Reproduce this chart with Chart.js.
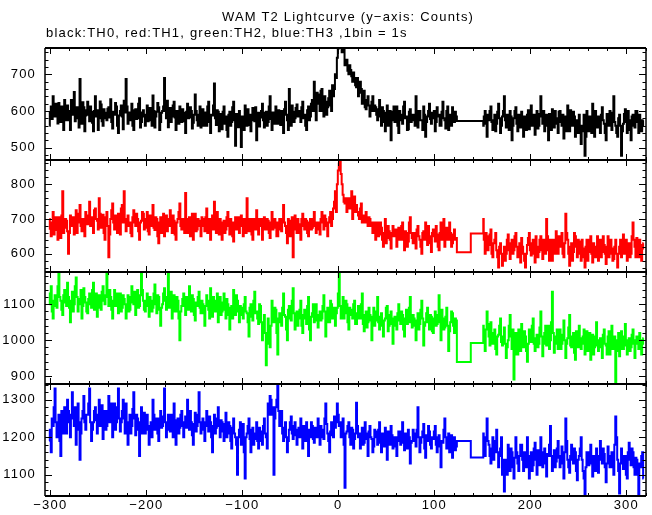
<!DOCTYPE html>
<html>
<head>
<meta charset="utf-8">
<script src="https://cdn.jsdelivr.net/npm/chart.js@4"></script>
<style>
  html, body { margin: 0; padding: 0; background: #fff; }
  #wrap { position: relative; width: 652px; height: 515px; }
  canvas { position: absolute; left: 0; top: 0; }
  .ttl { position: absolute; font-family: "Liberation Sans", Arial, sans-serif; font-size: 13px; line-height: 15px; letter-spacing: 1.2px; color: #000; white-space: nowrap; }
</style>
</head>
<body>
<div id="wrap">
  <canvas id="c" width="652" height="515"></canvas>
  <div class="ttl" id="t1" style="left:222px; top:9px;">WAM T2 Lightcurve (y−axis: Counts)</div>
  <div class="ttl" id="t2" style="left:46px; top:25px;">black:TH0, red:TH1, green:TH2, blue:TH3 ,1bin = 1s</div>
</div>
<script>
// ---- time bins (seconds) ----
const BIN = 1;              // bin width (s)
const PRE_START = -301;     // first bin before the data gap
const POST_START = 151;     // first bin after the data gap
const gapTimes = [124, 138, 151];

// ---- TH0 (black) ----
const th0Pre = [
560,595,612,578,640,604,585,620,598,566,622,590,570,612,605,548,630,592,575,615,
600,575,548,630,615,590,652,572,580,610,592,555,687,598,565,624,610,545,588,602,
625,590,572,612,598,568,545,600,640,585,602,548,580,626,618,572,560,605,595,580,
575,606,610,582,632,570,552,598,590,622,612,560,540,588,600,615,585,550,628,596,
687,612,565,590,596,575,620,560,548,602,605,578,580,620,635,555,570,596,602,585,
560,590,615,572,590,608,575,560,642,600,555,585,598,622,610,548,570,595,600,612,
690,600,580,628,556,595,608,570,585,615,625,582,548,600,592,565,612,584,570,605,
595,572,540,598,620,580,582,610,600,552,568,590,645,600,575,560,590,612,555,585,
605,560,578,596,560,612,625,570,540,590,588,615,675,580,562,602,598,545,580,592,
550,598,612,565,585,548,530,590,598,560,570,610,625,575,505,592,580,556,600,570,
502,585,575,548,615,590,560,605,590,562,545,590,608,575,572,610,520,580,595,558,
582,600,620,575,555,595,598,560,570,612,640,578,548,596,590,565,612,580,565,602,
585,562,600,578,540,605,625,590,575,548,660,600,560,615,598,570,580,608,618,585,
600,595,570,610,625,580,590,560,548,602,612,575,585,620,630,600,680,625,575,650,
645,620,600,655,660,600,585,640,625,590,610,635,655,615,600,670,640,660,700,690,
745,770,790,800,780,760,760,775,725,735,740,710,700,725,712,695,680,705,690,670,
665,690,640,650,680,660,620,640,655,610,605,630,640,615,585,600,625,640,600,615,
610,590,575,605,630,585,560,610,600,570,545,595,615,560,580,600,520,575,598,612,
570,590,612,560,540,600,590,575,565,612,625,580,585,548,550,598,605,570,575,590,
590,560,640,600,555,590,600,575,575,548,612,590,530,570,585,600,620,578,565,595,
580,600,545,570,610,585,590,560,560,598,625,580,575,552,600,612,548,575,590,560,
610,585,570,598,585];
const th0Gap = [573, 573];
const th0Post = [
560,585,600,565,530,590,575,600,612,570,548,575,590,545,565,598,620,580,540,560,
585,600,640,575,555,590,572,548,600,585,520,560,580,600,610,565,545,590,570,555,
598,570,530,585,565,548,590,602,550,575,615,560,575,590,535,580,600,552,560,592,
640,585,565,600,545,570,590,560,520,592,575,548,605,578,555,600,580,565,540,598,
600,570,560,590,525,575,585,545,615,580,545,602,570,560,598,585,530,575,565,540,
590,560,510,545,560,590,478,530,600,570,545,585,575,540,620,578,530,600,555,565,
585,555,540,590,610,575,565,540,520,592,575,560,600,578,548,595,640,570,560,540,
530,580,590,560,478,545,565,592,605,570,540,600,575,548,520,585,590,560,555,600,
600,570,540,590,575,545,560,575];

// ---- TH1 (red) ----
const th1Pre = [
700,672,650,690,720,655,668,705,690,640,705,680,645,710,780,660,675,700,695,665,
600,660,710,690,680,705,655,675,725,660,690,715,740,680,665,700,700,650,720,690,
685,710,750,680,705,690,660,725,730,700,695,670,760,715,675,690,712,660,640,705,
720,680,590,655,700,725,745,690,670,710,690,660,715,700,655,730,740,690,780,700,
665,700,710,680,690,660,650,705,725,690,680,715,700,665,640,690,695,720,715,670,
675,700,720,665,655,710,690,680,740,675,668,705,700,650,630,690,705,660,685,715,
650,690,710,665,680,700,725,680,660,710,695,655,640,690,700,720,745,680,670,700,
690,660,775,700,660,690,705,650,680,715,640,690,715,665,670,700,695,680,650,705,
700,680,665,705,730,660,680,700,640,690,710,670,750,700,660,720,690,655,700,680,
640,690,695,660,670,705,720,680,655,700,690,650,635,690,705,670,680,705,660,690,
710,680,650,700,685,660,760,700,665,690,700,655,640,700,690,670,725,680,655,700,
680,700,640,670,705,680,670,700,695,660,645,690,720,670,675,700,690,650,650,690,
700,670,665,700,740,690,680,660,630,700,695,650,670,705,590,680,710,670,660,700,
685,660,640,700,715,680,670,700,695,660,650,690,700,670,675,700,720,680,660,690,
690,670,655,700,720,690,670,710,700,680,650,690,705,720,680,700,730,750,780,720,
800,840,860,870,830,800,770,750,745,760,720,740,760,730,735,780,700,745,765,720,
740,720,710,700,730,745,690,710,705,690,720,700,680,705,700,680,690,660,665,690,
640,670,690,650,655,690,675,640,620,660,700,630,645,680,665,640,615,660,680,650,
650,670,620,640,675,655,640,680,690,640,610,665,660,620,635,690,705,660,645,630,
660,640,615,670,680,650,640,620,600,660,665,640,690,655,625,680,650,630,605,660,
670,650,635,680,655,620,610,660,690,640,645,700,620,655,675,640,640,690,660,620,
630,655,670,640,645];
const th1Gap = [604, 658];
const th1Post = [
700,640,600,660,650,610,625,655,670,600,590,630,640,660,610,590,560,620,630,600,
565,600,620,580,600,640,655,610,585,630,640,600,610,650,660,620,590,600,630,575,
645,620,600,580,560,600,625,645,660,610,595,630,640,600,575,650,620,590,605,640,
650,610,585,640,625,600,700,650,610,580,640,620,580,640,630,600,665,620,600,650,
620,640,660,600,590,630,715,660,640,600,565,620,630,580,605,660,650,620,590,640,
635,600,580,640,615,590,560,620,640,580,605,640,650,600,575,630,620,590,600,650,
580,620,640,590,605,650,625,600,570,620,650,590,600,640,615,580,585,620,640,600,
560,600,620,640,590,620,655,600,610,640,580,610,630,590,600,650,690,640,620,590,
645,600,590,640,625,580,615,630];

// ---- TH2 (green) ----
const th2Pre = [
1100,1130,1150,1080,1060,1110,1125,1095,1090,1150,1185,1120,1110,1085,1070,1125,1140,1105,1095,1160,
1120,1090,1050,1110,1135,1080,1100,1150,1175,1120,1080,1100,1115,1140,1060,1095,1145,1120,1105,1080,
1075,1115,1130,1100,1090,1140,1160,1085,1110,1130,1065,1105,1125,1090,1085,1135,1150,1110,1100,1125,
1185,1120,1095,1140,1120,1085,1060,1110,1140,1095,1105,1130,1075,1115,1130,1080,1090,1125,1115,1100,
1060,1100,1125,1080,1085,1120,1150,1105,1100,1135,1070,1115,1140,1090,1095,1125,1185,1140,1110,1085,
1080,1110,1130,1095,1065,1120,1110,1080,1090,1130,1155,1100,1075,1125,1120,1085,1040,1090,1100,1130,
1145,1110,1085,1120,1185,1090,1100,1135,1060,1095,1125,1080,1080,1120,1110,1060,1000,1080,1095,1115,
1130,1095,1070,1120,1105,1085,1150,1100,1080,1125,1115,1070,1055,1105,1095,1120,1135,1090,1075,1110,
1100,1075,1040,1095,1125,1110,1085,1060,1145,1100,1065,1120,1110,1080,1090,1130,1050,1095,1120,1070,
1080,1105,1130,1085,1060,1115,1100,1070,1030,1090,1095,1060,1140,1100,1070,1125,1110,1080,1050,1095,
1090,1070,1060,1100,1120,1080,1075,1050,1010,1090,1100,1065,1055,1110,1135,1075,1080,1060,1045,1100,
1095,1050,1000,1040,1070,1020,930,990,1060,1010,980,1040,1110,1070,1050,1090,1085,1020,960,1060,
1075,1050,1040,1090,1130,1070,1065,1030,1000,1085,1095,1060,1055,1110,1145,1075,1030,1060,1080,1040,
1060,1085,1110,1040,1020,1070,1085,1060,1045,1095,1120,1030,1000,1065,1075,1100,1050,1080,1100,1055,
1035,1070,1080,1055,1060,1095,1125,1080,1010,1050,1090,1070,1050,1110,1100,1060,1070,1090,1040,1075,
1090,1130,1185,1095,1060,1080,1120,1060,1075,1110,1100,1050,1030,1090,1085,1070,1060,1100,1110,1045,
1045,1075,1095,1060,1060,1100,1130,1045,1025,1070,1080,1035,1050,1090,1070,1055,1000,1065,1090,1040,
1055,1080,1120,1050,1030,1065,1075,1040,1010,1055,1060,1090,1095,1025,1040,1070,1080,1045,990,1060,
1065,1040,1030,1075,1100,1055,1045,1080,1070,1030,1010,1060,1085,1045,1050,1090,1120,1050,1035,1070,
1060,1040,1000,1055,1075,1030,1045,1085,1110,1060,985,1040,1050,1075,1090,1050,1030,1070,1065,1025,
1020,1060,1080,1040,1045,1070,1125,1050,1000,1085,1060,1030,1035,1065,1090,1040,970,1025,1050,1080,
1075,1040,1020,1060,1055];
const th2Gap = [939, 992];
const th2Post = [
1040,1000,970,1030,1080,1045,1010,985,1050,1020,990,1005,1030,975,960,1010,1015,1040,1060,995,
985,1010,1035,990,950,980,1000,1040,1070,1010,975,1030,890,960,1020,990,960,1030,1005,970,
1045,1000,980,1025,1010,970,940,990,1030,1010,995,1040,1060,990,970,1005,1015,980,990,1035,
1080,1010,955,990,1020,1040,985,1005,1040,975,1000,1050,1135,1020,965,990,1010,1030,975,1000,
1030,975,990,1015,1055,1000,950,990,1005,1035,1070,985,980,1010,1020,965,945,1025,1000,980,
1040,1005,975,990,1010,1030,960,995,1025,970,990,1020,945,990,1015,960,980,1010,1050,985,
970,1000,1005,980,950,1015,1030,990,985,960,1010,1025,960,1000,1040,975,990,1010,880,970,
1000,1020,955,990,1025,975,975,1010,1045,985,960,1000,1005,970,980,1015,1030,990,950,1000,
1010,990,975,1020,1000,960,990,1005];

// ---- TH3 (blue) ----
const th3Pre = [
1190,1220,1160,1250,1230,1280,1330,1240,1200,1230,1260,1190,1150,1270,1240,1210,1280,1250,1210,1300,
1270,1240,1200,1260,1320,1250,1230,1280,1180,1220,1290,1240,1140,1210,1250,1270,1310,1240,1220,1260,
1260,1290,1330,1240,1190,1220,1240,1270,1280,1245,1210,1260,1300,1230,1250,1285,1195,1240,1270,1220,
1230,1270,1310,1240,1260,1290,1200,1255,1290,1220,1240,1280,1330,1250,1215,1240,1270,1300,1250,1210,
1290,1240,1180,1230,1260,1210,1230,1275,1320,1250,1205,1260,1250,1220,1150,1240,1280,1210,1240,1265,
1210,1245,1260,1220,1180,1230,1240,1200,1300,1260,1220,1240,1250,1210,1190,1250,1270,1225,1230,1255,
1330,1240,1200,1230,1260,1220,1215,1260,1240,1200,1290,1245,1180,1230,1250,1210,1225,1260,1270,1230,
1200,1240,1255,1225,1300,1250,1220,1270,1240,1205,1180,1235,1265,1215,1230,1260,1320,1240,1210,1230,
1250,1220,1190,1240,1270,1230,1215,1255,1240,1200,1160,1230,1260,1210,1225,1250,1280,1230,1200,1245,
1240,1215,1190,1235,1265,1200,1210,1240,1230,1190,1170,1225,1250,1210,1200,1180,1100,1200,1220,1240,
1180,1210,1235,1160,1090,1200,1210,1230,1250,1195,1160,1220,1225,1180,1195,1210,1240,1190,1170,1225,
1215,1190,1180,1230,1250,1210,1200,1170,1290,1260,1310,1300,1260,1280,1100,1250,1280,1300,1340,1270,
1230,1250,1270,1210,1190,1225,1240,1200,1160,1190,1220,1240,1255,1210,1195,1230,1240,1205,1180,1220,
1225,1200,1250,1215,1170,1230,1210,1190,1240,1205,1150,1220,1200,1240,1230,1195,1185,1225,1215,1200,
1250,1215,1180,1230,1220,1200,1195,1250,1290,1235,1210,1190,1160,1215,1240,1205,1200,1255,1225,1240,
1290,1260,1230,1240,1200,1215,1250,1180,1065,1210,1215,1230,1240,1200,1180,1225,1220,1170,1195,1210,
1292,1230,1200,1210,1170,1200,1225,1180,1185,1240,1210,1195,1150,1215,1230,1200,1195,1160,1175,1220,
1215,1200,1180,1220,1240,1185,1160,1210,1200,1175,1225,1200,1140,1215,1195,1180,1230,1205,1170,1190,
1200,1175,1150,1200,1215,1190,1180,1215,1240,1185,1165,1210,1195,1170,1220,1200,1130,1185,1190,1220,
1210,1190,1175,1220,1280,1200,1160,1185,1200,1215,1235,1170,1145,1205,1190,1230,1215,1180,1170,1200,
1195,1215,1230,1180,1160,1200,1205,1175,1120,1190,1185,1220,1250,1200,1170,1195,1210,1160,1180,1205,
1145,1190,1200,1165,1175];
const th3Gap = [1190, 1146];
const th3Post = [
1210,1180,1150,1200,1250,1190,1180,1150,1130,1170,1200,1140,1160,1190,1220,1160,1120,1150,1170,1200,
1100,1140,1055,1120,1140,1100,1180,1150,1110,1170,1160,1120,1090,1145,1200,1160,1130,1110,1150,1180,
1180,1140,1110,1160,1145,1120,1200,1150,1090,1130,1160,1110,1125,1170,1185,1140,1100,1165,1150,1125,
1200,1160,1120,1140,1170,1130,1095,1155,1150,1180,1230,1150,1110,1140,1165,1120,1135,1170,1190,1145,
1120,1150,1175,1130,1090,1160,1250,1190,1140,1120,1105,1150,1180,1140,1130,1170,1160,1110,1085,1140,
1150,1170,1200,1140,1110,1090,1045,1120,1160,1140,1125,1160,1180,1130,1095,1150,1140,1110,1170,1135,
1105,1150,1190,1140,1130,1170,1155,1120,1080,1130,1175,1150,1120,1145,1160,1120,1100,1180,1255,1200,
1140,1110,1050,1130,1170,1150,1115,1140,1150,1100,1090,1160,1185,1140,1125,1170,1160,1120,1100,1145,
1140,1100,1045,1130,1120,1150,1160,1090];

// ---- axis ranges and tick labels ----
const xRange = [-305.5, 320.5];
const xTickValues = [-300, -200, -100, 0, 100, 200, 300];
const yRanges = [[466.5, 771.7], [547.3, 870], [877.7, 1190], [1043.2, 1341.9]];
const yTickValues = [[500, 600, 700], [600, 700, 800], [900, 1000, 1100], [1100, 1200, 1300]];
const majorStep = 100, minorStep = 20;
const seriesColors = ['#000000', '#ff0000', '#00ff00', '#0000ff'];

function buildSeries(pre, gap, post) {
  const pts = pre.map((v, i) => ({x: PRE_START + i * BIN, y: v}));
  pts.push({x: gapTimes[0], y: gap[0]}, {x: gapTimes[1], y: gap[0]},
           {x: gapTimes[1], y: gap[1]}, {x: gapTimes[2], y: gap[1]});
  post.forEach((v, i) => pts.push({x: POST_START + i * BIN, y: v}));
  return pts;
}
const allSeries = [
  buildSeries(th0Pre, th0Gap, th0Post),
  buildSeries(th1Pre, th1Gap, th1Post),
  buildSeries(th2Pre, th2Gap, th2Post),
  buildSeries(th3Pre, th3Gap, th3Post)
];
const yIds = ['y0', 'y1', 'y2', 'y3'];
const FONT = {family: '"Liberation Sans", Arial, sans-serif', size: 13};
const fmt = v => String(v).replace('-', '\u2212');

const datasets = allSeries.map((pts, i) => ({
  data: pts, yAxisID: yIds[i], borderColor: seriesColors[i],
  borderWidth: 2, pointRadius: 0, stepped: 'middle', fill: false, clip: 0
}));

const scales = {
  x: {
    type: 'linear', position: 'bottom', min: xRange[0], max: xRange[1],
    afterBuildTicks: s => { s.ticks = xTickValues.map(v => ({value: v})); },
    ticks: {autoSkip: false, maxRotation: 0, padding: 2, color: '#000', font: FONT, callback: fmt},
    grid: {display: false, drawTicks: false}, border: {display: false},
    afterFit: s => { s.height = 19; }
  }
};
yIds.forEach((id, i) => {
  scales[id] = {
    type: 'linear', position: 'left', stack: 'lc', stackWeight: 1, weight: 4 - i,
    min: yRanges[i][0], max: yRanges[i][1],
    afterBuildTicks: s => { s.ticks = yTickValues[i].map(v => ({value: v})); },
    ticks: {autoSkip: false, padding: 9, color: '#000', font: FONT, callback: fmt},
    grid: {display: false, drawTicks: false}, border: {display: false},
    afterFit: s => { s.width = 45; }
  };
});

const framePlugin = {
  id: 'frame',
  beforeDraw(chart) { chart.ctx.letterSpacing = '1.2px'; },
  afterDatasetsDraw(chart) {
    const ctx = chart.ctx, xs = chart.scales.x, ca = chart.chartArea;
    ctx.save();
    ctx.strokeStyle = '#000';
    yIds.forEach(id => {
      const ys = chart.scales[id];
      const top = ys.top, bot = ys.bottom, l = ca.left, r = ca.right;
      ctx.lineWidth = 2;
      ctx.beginPath();
      ctx.moveTo(l, top); ctx.lineTo(r, top);
      ctx.moveTo(l, bot); ctx.lineTo(r, bot);
      ctx.stroke();
      ctx.lineWidth = 1.5;
      ctx.beginPath();
      ctx.moveTo(l, top); ctx.lineTo(l, bot);
      ctx.moveTo(r, top); ctx.lineTo(r, bot);
      ctx.stroke();
      ctx.lineWidth = 1;
      ctx.beginPath();
      for (let v = Math.ceil(xs.min / minorStep) * minorStep; v <= xs.max; v += minorStep) {
        const px = Math.round(xs.getPixelForValue(v)) + 0.5;
        const len = (v % majorStep === 0) ? 6 : 3;
        ctx.moveTo(px, top); ctx.lineTo(px, top + len);
        ctx.moveTo(px, bot); ctx.lineTo(px, bot - len);
      }
      for (let v = Math.ceil(ys.min / minorStep) * minorStep; v <= ys.max; v += minorStep) {
        const py = Math.round(ys.getPixelForValue(v)) + 0.5;
        const len = (v % majorStep === 0) ? 7 : 3.5;
        ctx.moveTo(l, py); ctx.lineTo(l + len, py);
        ctx.moveTo(r, py); ctx.lineTo(r - len, py);
      }
      ctx.stroke();
    });
    ctx.restore();
  }
};

new Chart(document.getElementById('c'), {
  type: 'line',
  data: {datasets},
  options: {
    responsive: false, animation: false, devicePixelRatio: 1,
    layout: {padding: {top: 48, right: 6, left: 0, bottom: 0}},
    plugins: {legend: {display: false}, tooltip: {enabled: false}, title: {display: false}},
    scales
  },
  plugins: [framePlugin]
});
</script>
</body>
</html>
